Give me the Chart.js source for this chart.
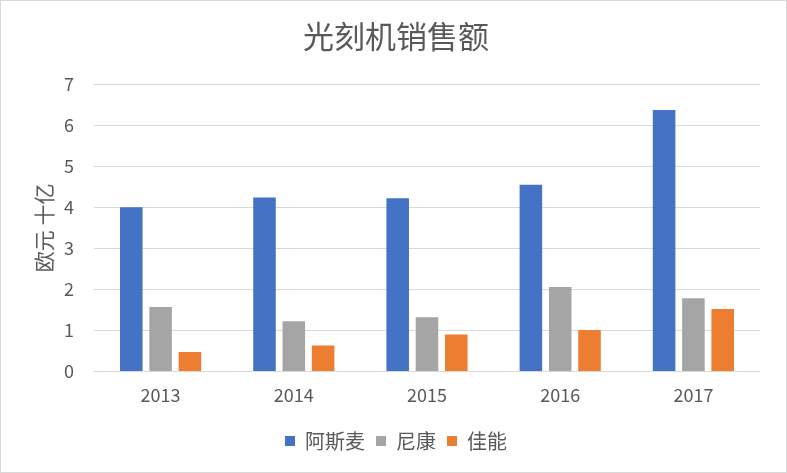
<!DOCTYPE html>
<html>
<head>
<meta charset="utf-8">
<script src="https://cdn.jsdelivr.net/npm/chart.js@4/dist/chart.umd.min.js"></script>
<style>
html,body{margin:0;padding:0;background:#fff;}
#wrap{width:785px;height:471px;border:1px solid #d9d9d9;position:relative;}
canvas{display:block;}
</style>
</head>
<body>
<div id="wrap"><canvas id="c" width="785" height="471"></canvas></div>
<script>
const categories = ['2013', '2014', '2015', '2016', '2017'];
const asml = [4.0, 4.24, 4.22, 4.55, 6.37];
const nikon = [1.57, 1.22, 1.32, 2.06, 1.78];
const canon = [0.47, 0.63, 0.90, 1.01, 1.52];
const seriesNames = ['阿斯麦', '尼康', '佳能'];
const yTicks = [0, 1, 2, 3, 4, 5, 6, 7];

const FONT = '"Noto Sans CJK SC", "Noto Sans", sans-serif';
const GRAY = '#595959';

new Chart(document.getElementById('c'), {
  type: 'bar',
  data: {
    labels: categories,
    datasets: [
      { label: seriesNames[0], data: asml, backgroundColor: '#4472c4' },
      { label: seriesNames[1], data: nikon, backgroundColor: '#a5a5a5' },
      { label: seriesNames[2], data: canon, backgroundColor: '#ed7d31' }
    ]
  },
  options: {
    responsive: false,
    animation: false,
    devicePixelRatio: 1,
    layout: { padding: { left: 31, right: 26, top: 8, bottom: 11 } },
    datasets: { bar: { categoryPercentage: 0.66, barPercentage: 0.77 } },
    plugins: {
      title: {
        display: true,
        text: '光刻机销售额',
        color: GRAY,
        font: { family: FONT, size: 31, weight: 'normal' },
        padding: { top: 9, bottom: 29 }
      },
      legend: {
        position: 'bottom',
        labels: {
          color: GRAY,
          font: { family: FONT, size: 20 },
          boxWidth: 10,
          boxHeight: 10,
          padding: 11
        }
      },
      tooltip: { enabled: false }
    },
    scales: {
      x: {
        grid: { display: false },
        border: { display: false },
        ticks: { color: GRAY, font: { family: FONT, size: 18 }, padding: 5 },
        afterFit: (s) => { s.height += 9; }
      },
      y: {
        min: 0,
        max: 7,
        afterBuildTicks: (axis) => { axis.ticks = yTicks.map(v => ({ value: v })); },
        grid: { color: '#d9d9d9', lineWidth: 1, drawTicks: false },
        border: { display: false },
        ticks: { color: GRAY, font: { family: FONT, size: 18 }, padding: 20 },
        title: {
          display: true,
          text: '欧元 十亿',
          color: GRAY,
          font: { family: FONT, size: 21, lineHeight: 1.0 },
          padding: { top: 2, bottom: 10 }
        },
        afterFit: (s) => { s.width = 62; }
      }
    }
  }
});
</script>
</body>
</html>
